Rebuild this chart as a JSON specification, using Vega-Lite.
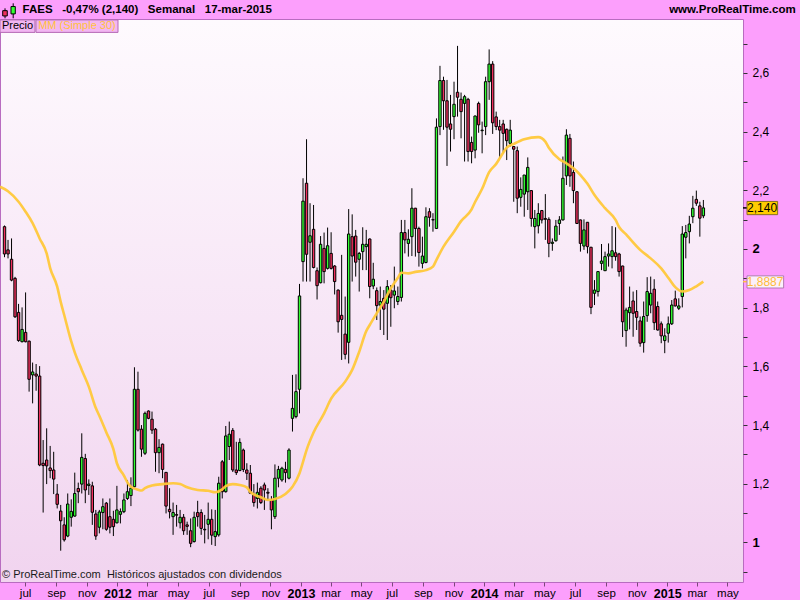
{
  "$schema": "https://vega.github.io/schema/vega-lite/v6.json",
  "width": 743,
  "height": 563,
  "autosize": {"type": "none"},
  "padding": {"left": 0, "top": 19, "right": 57, "bottom": 18},
  "background": "#fc9ffc",
  "config": {
    "font": "Liberation Sans",
    "view": {
      "fill": {"gradient": "linear", "x1": 0, "y1": 0, "x2": 0, "y2": 1, "stops": [{"offset": 0, "color": "#fefafe"}, {"offset": 1, "color": "#f1d4ef"}]},
      "stroke": "#b86cc0",
      "strokeWidth": 1
    }
  },
  "datasets": {
    "candles": [
      {"d":"2011-05-21","o":2.076,"h":2.08,"l":1.972,"c":1.983},
      {"d":"2011-05-28","o":1.997,"h":2.031,"l":1.968,"c":1.983},
      {"d":"2011-06-04","o":1.965,"h":2.036,"l":1.89,"c":1.894},
      {"d":"2011-06-11","o":1.9,"h":1.905,"l":1.765,"c":1.769},
      {"d":"2011-06-18","o":1.784,"h":1.813,"l":1.684,"c":1.688},
      {"d":"2011-06-25","o":1.684,"h":1.801,"l":1.682,"c":1.726},
      {"d":"2011-07-02","o":1.716,"h":1.852,"l":1.682,"c":1.684},
      {"d":"2011-07-09","o":1.686,"h":1.688,"l":1.514,"c":1.556},
      {"d":"2011-07-16","o":1.571,"h":1.613,"l":1.474,"c":1.581},
      {"d":"2011-07-23","o":1.574,"h":1.608,"l":1.517,"c":1.567},
      {"d":"2011-07-30","o":1.567,"h":1.601,"l":1.26,"c":1.264},
      {"d":"2011-08-06","o":1.27,"h":1.349,"l":1.102,"c":1.262},
      {"d":"2011-08-13","o":1.281,"h":1.389,"l":1.199,"c":1.261},
      {"d":"2011-08-20","o":1.254,"h":1.329,"l":1.219,"c":1.245},
      {"d":"2011-08-27","o":1.247,"h":1.309,"l":1.165,"c":1.216},
      {"d":"2011-09-03","o":1.165,"h":1.199,"l":1.116,"c":1.13},
      {"d":"2011-09-10","o":1.107,"h":1.128,"l":0.972,"c":1.074},
      {"d":"2011-09-17","o":1.06,"h":1.086,"l":1.003,"c":1.009},
      {"d":"2011-09-24","o":1.022,"h":1.167,"l":1.018,"c":1.131},
      {"d":"2011-10-01","o":1.086,"h":1.147,"l":1.054,"c":1.106},
      {"d":"2011-10-08","o":1.09,"h":1.238,"l":1.088,"c":1.167},
      {"d":"2011-10-15","o":1.184,"h":1.204,"l":1.134,"c":1.173},
      {"d":"2011-10-22","o":1.199,"h":1.372,"l":1.167,"c":1.29},
      {"d":"2011-10-29","o":1.286,"h":1.302,"l":1.134,"c":1.179},
      {"d":"2011-11-05","o":1.194,"h":1.215,"l":1.162,"c":1.199},
      {"d":"2011-11-12","o":1.193,"h":1.207,"l":1.06,"c":1.103},
      {"d":"2011-11-19","o":1.097,"h":1.111,"l":1.009,"c":1.022},
      {"d":"2011-11-26","o":1.052,"h":1.111,"l":1.031,"c":1.104},
      {"d":"2011-12-03","o":1.102,"h":1.15,"l":1.045,"c":1.122},
      {"d":"2011-12-10","o":1.134,"h":1.138,"l":1.04,"c":1.045},
      {"d":"2011-12-17","o":1.088,"h":1.15,"l":1.031,"c":1.052},
      {"d":"2011-12-24","o":1.079,"h":1.108,"l":1.022,"c":1.054},
      {"d":"2011-12-31","o":1.067,"h":1.193,"l":1.065,"c":1.111},
      {"d":"2012-01-07","o":1.096,"h":1.116,"l":1.065,"c":1.105},
      {"d":"2012-01-14","o":1.105,"h":1.167,"l":1.1,"c":1.145},
      {"d":"2012-01-21","o":1.15,"h":1.213,"l":1.145,"c":1.173},
      {"d":"2012-01-28","o":1.16,"h":1.222,"l":1.124,"c":1.185},
      {"d":"2012-02-04","o":1.19,"h":1.597,"l":1.188,"c":1.522},
      {"d":"2012-02-11","o":1.522,"h":1.582,"l":1.378,"c":1.383},
      {"d":"2012-02-18","o":1.386,"h":1.4,"l":1.292,"c":1.318},
      {"d":"2012-02-25","o":1.304,"h":1.446,"l":1.298,"c":1.44},
      {"d":"2012-03-03","o":1.448,"h":1.45,"l":1.42,"c":1.423},
      {"d":"2012-03-10","o":1.42,"h":1.446,"l":1.37,"c":1.383},
      {"d":"2012-03-17","o":1.386,"h":1.39,"l":1.241,"c":1.306},
      {"d":"2012-03-24","o":1.306,"h":1.352,"l":1.236,"c":1.324},
      {"d":"2012-03-31","o":1.335,"h":1.337,"l":1.219,"c":1.249},
      {"d":"2012-04-07","o":1.239,"h":1.24,"l":1.099,"c":1.124},
      {"d":"2012-04-14","o":1.113,"h":1.185,"l":1.082,"c":1.105},
      {"d":"2012-04-21","o":1.088,"h":1.136,"l":1.026,"c":1.102},
      {"d":"2012-04-28","o":1.095,"h":1.128,"l":1.054,"c":1.093},
      {"d":"2012-05-05","o":1.067,"h":1.111,"l":1.048,"c":1.086},
      {"d":"2012-05-12","o":1.086,"h":1.097,"l":1.026,"c":1.04},
      {"d":"2012-05-19","o":1.06,"h":1.071,"l":1.026,"c":1.055},
      {"d":"2012-05-26","o":1.04,"h":1.082,"l":0.984,"c":0.997},
      {"d":"2012-06-02","o":1.003,"h":1.105,"l":1.0,"c":1.086},
      {"d":"2012-06-09","o":1.102,"h":1.142,"l":1.054,"c":1.088},
      {"d":"2012-06-16","o":1.102,"h":1.113,"l":1.026,"c":1.048},
      {"d":"2012-06-23","o":1.045,"h":1.094,"l":0.997,"c":1.043},
      {"d":"2012-06-30","o":1.062,"h":1.136,"l":1.011,"c":1.079},
      {"d":"2012-07-07","o":1.079,"h":1.113,"l":0.992,"c":1.025},
      {"d":"2012-07-14","o":1.02,"h":1.111,"l":0.988,"c":1.037},
      {"d":"2012-07-21","o":1.026,"h":1.224,"l":1.02,"c":1.202},
      {"d":"2012-07-28","o":1.275,"h":1.281,"l":1.15,"c":1.173},
      {"d":"2012-08-04","o":1.173,"h":1.397,"l":1.17,"c":1.363},
      {"d":"2012-08-11","o":1.327,"h":1.412,"l":1.281,"c":1.369},
      {"d":"2012-08-18","o":1.382,"h":1.39,"l":1.24,"c":1.247},
      {"d":"2012-08-25","o":1.247,"h":1.343,"l":1.23,"c":1.238},
      {"d":"2012-09-01","o":1.245,"h":1.355,"l":1.243,"c":1.341},
      {"d":"2012-09-08","o":1.315,"h":1.32,"l":1.24,"c":1.249},
      {"d":"2012-09-15","o":1.247,"h":1.27,"l":1.213,"c":1.236},
      {"d":"2012-09-22","o":1.236,"h":1.264,"l":1.165,"c":1.168},
      {"d":"2012-09-29","o":1.162,"h":1.199,"l":1.122,"c":1.136},
      {"d":"2012-10-06","o":1.15,"h":1.204,"l":1.116,"c":1.171},
      {"d":"2012-10-13","o":1.185,"h":1.192,"l":1.131,"c":1.136},
      {"d":"2012-10-20","o":1.196,"h":1.204,"l":1.111,"c":1.179},
      {"d":"2012-10-27","o":1.171,"h":1.185,"l":1.143,"c":1.168},
      {"d":"2012-11-03","o":1.143,"h":1.158,"l":1.045,"c":1.111},
      {"d":"2012-11-10","o":1.088,"h":1.266,"l":1.08,"c":1.219},
      {"d":"2012-11-17","o":1.219,"h":1.261,"l":1.188,"c":1.249},
      {"d":"2012-11-24","o":1.213,"h":1.258,"l":1.207,"c":1.253},
      {"d":"2012-12-01","o":1.249,"h":1.275,"l":1.204,"c":1.238},
      {"d":"2012-12-08","o":1.219,"h":1.321,"l":1.215,"c":1.315},
      {"d":"2012-12-15","o":1.423,"h":1.571,"l":1.378,"c":1.457},
      {"d":"2012-12-22","o":1.429,"h":1.573,"l":1.423,"c":1.514},
      {"d":"2012-12-29","o":1.522,"h":1.881,"l":1.44,"c":1.84},
      {"d":"2013-01-05","o":1.957,"h":2.241,"l":1.889,"c":2.163},
      {"d":"2013-01-12","o":2.224,"h":2.374,"l":1.889,"c":1.982},
      {"d":"2013-01-19","o":2.023,"h":2.156,"l":1.889,"c":2.045},
      {"d":"2013-01-26","o":2.067,"h":2.15,"l":1.934,"c":1.937},
      {"d":"2013-02-02","o":1.926,"h":1.937,"l":1.828,"c":1.875},
      {"d":"2013-02-09","o":1.885,"h":2.044,"l":1.883,"c":2.016},
      {"d":"2013-02-16","o":2.002,"h":2.056,"l":1.883,"c":1.923},
      {"d":"2013-02-23","o":1.934,"h":2.073,"l":1.93,"c":2.011},
      {"d":"2013-03-02","o":1.985,"h":2.057,"l":1.93,"c":1.934},
      {"d":"2013-03-09","o":1.942,"h":1.945,"l":1.845,"c":1.889},
      {"d":"2013-03-16","o":1.86,"h":1.862,"l":1.715,"c":1.752},
      {"d":"2013-03-23","o":1.774,"h":1.98,"l":1.622,"c":1.76},
      {"d":"2013-03-30","o":1.71,"h":1.838,"l":1.624,"c":1.641},
      {"d":"2013-04-06","o":1.682,"h":2.136,"l":1.61,"c":2.051},
      {"d":"2013-04-13","o":2.042,"h":2.118,"l":1.889,"c":1.976},
      {"d":"2013-04-20","o":2.044,"h":2.065,"l":1.906,"c":1.955},
      {"d":"2013-04-27","o":1.965,"h":1.99,"l":1.855,"c":1.985},
      {"d":"2013-05-04","o":1.991,"h":2.074,"l":1.928,"c":2.016},
      {"d":"2013-05-11","o":2.008,"h":2.065,"l":1.928,"c":2.016},
      {"d":"2013-05-18","o":2.034,"h":2.036,"l":1.832,"c":1.872},
      {"d":"2013-05-25","o":1.874,"h":1.953,"l":1.863,"c":1.897},
      {"d":"2013-06-01","o":1.858,"h":1.869,"l":1.758,"c":1.807},
      {"d":"2013-06-08","o":1.809,"h":1.872,"l":1.724,"c":1.821},
      {"d":"2013-06-15","o":1.832,"h":1.86,"l":1.707,"c":1.795},
      {"d":"2013-06-22","o":1.815,"h":1.894,"l":1.69,"c":1.872},
      {"d":"2013-06-29","o":1.86,"h":1.877,"l":1.735,"c":1.834},
      {"d":"2013-07-06","o":1.843,"h":1.94,"l":1.798,"c":1.857},
      {"d":"2013-07-13","o":1.821,"h":1.872,"l":1.809,"c":1.838},
      {"d":"2013-07-20","o":1.835,"h":2.099,"l":1.821,"c":2.056},
      {"d":"2013-07-27","o":2.056,"h":2.099,"l":1.985,"c":2.031},
      {"d":"2013-08-03","o":2.019,"h":2.067,"l":1.974,"c":2.033},
      {"d":"2013-08-10","o":2.042,"h":2.207,"l":1.976,"c":2.139},
      {"d":"2013-08-17","o":2.139,"h":2.14,"l":1.974,"c":2.07},
      {"d":"2013-08-24","o":2.07,"h":2.076,"l":1.94,"c":1.988},
      {"d":"2013-08-31","o":1.951,"h":2.042,"l":1.934,"c":1.976},
      {"d":"2013-09-07","o":1.954,"h":2.142,"l":1.951,"c":2.11},
      {"d":"2013-09-14","o":2.127,"h":2.139,"l":2.076,"c":2.108},
      {"d":"2013-09-21","o":2.099,"h":2.122,"l":2.059,"c":2.1},
      {"d":"2013-09-28","o":2.07,"h":2.445,"l":2.068,"c":2.415},
      {"d":"2013-10-05","o":2.417,"h":2.624,"l":2.388,"c":2.574},
      {"d":"2013-10-12","o":2.574,"h":2.587,"l":2.406,"c":2.505},
      {"d":"2013-10-19","o":2.505,"h":2.576,"l":2.283,"c":2.415},
      {"d":"2013-10-26","o":2.426,"h":2.525,"l":2.332,"c":2.408},
      {"d":"2013-11-02","o":2.451,"h":2.57,"l":2.374,"c":2.493},
      {"d":"2013-11-09","o":2.534,"h":2.692,"l":2.451,"c":2.517},
      {"d":"2013-11-16","o":2.51,"h":2.533,"l":2.377,"c":2.468},
      {"d":"2013-11-23","o":2.496,"h":2.525,"l":2.298,"c":2.519},
      {"d":"2013-11-30","o":2.51,"h":2.515,"l":2.298,"c":2.332},
      {"d":"2013-12-07","o":2.363,"h":2.383,"l":2.292,"c":2.332},
      {"d":"2013-12-14","o":2.337,"h":2.455,"l":2.309,"c":2.453},
      {"d":"2013-12-21","o":2.496,"h":2.502,"l":2.396,"c":2.423},
      {"d":"2013-12-28","o":2.403,"h":2.434,"l":2.326,"c":2.405},
      {"d":"2014-01-04","o":2.417,"h":2.587,"l":2.388,"c":2.57},
      {"d":"2014-01-11","o":2.57,"h":2.68,"l":2.508,"c":2.63},
      {"d":"2014-01-18","o":2.63,"h":2.64,"l":2.392,"c":2.43},
      {"d":"2014-01-25","o":2.45,"h":2.468,"l":2.405,"c":2.417},
      {"d":"2014-02-01","o":2.417,"h":2.44,"l":2.309,"c":2.405},
      {"d":"2014-02-08","o":2.426,"h":2.44,"l":2.326,"c":2.394},
      {"d":"2014-02-15","o":2.408,"h":2.41,"l":2.303,"c":2.369},
      {"d":"2014-02-22","o":2.36,"h":2.44,"l":2.349,"c":2.405},
      {"d":"2014-03-01","o":2.349,"h":2.351,"l":2.161,"c":2.34},
      {"d":"2014-03-08","o":2.335,"h":2.349,"l":2.122,"c":2.173},
      {"d":"2014-03-15","o":2.176,"h":2.244,"l":2.144,"c":2.203},
      {"d":"2014-03-22","o":2.187,"h":2.252,"l":2.11,"c":2.252},
      {"d":"2014-03-29","o":2.195,"h":2.312,"l":2.133,"c":2.278},
      {"d":"2014-04-05","o":2.199,"h":2.2,"l":2.076,"c":2.104},
      {"d":"2014-04-12","o":2.076,"h":2.133,"l":2.002,"c":2.104},
      {"d":"2014-04-19","o":2.079,"h":2.156,"l":2.053,"c":2.121},
      {"d":"2014-04-26","o":2.131,"h":2.133,"l":2.087,"c":2.099},
      {"d":"2014-05-03","o":2.104,"h":2.187,"l":2.031,"c":2.101},
      {"d":"2014-05-10","o":2.101,"h":2.108,"l":1.972,"c":2.019},
      {"d":"2014-05-17","o":2.019,"h":2.036,"l":1.994,"c":2.023},
      {"d":"2014-05-24","o":2.028,"h":2.099,"l":2.025,"c":2.078},
      {"d":"2014-05-31","o":2.087,"h":2.112,"l":2.048,"c":2.099},
      {"d":"2014-06-07","o":2.099,"h":2.315,"l":2.097,"c":2.241},
      {"d":"2014-06-14","o":2.249,"h":2.408,"l":2.218,"c":2.388},
      {"d":"2014-06-21","o":2.377,"h":2.392,"l":2.212,"c":2.249},
      {"d":"2014-06-28","o":2.261,"h":2.298,"l":2.156,"c":2.199},
      {"d":"2014-07-05","o":2.195,"h":2.197,"l":2.085,"c":2.087},
      {"d":"2014-07-12","o":2.099,"h":2.1,"l":1.991,"c":2.019},
      {"d":"2014-07-19","o":2.01,"h":2.101,"l":1.997,"c":2.065},
      {"d":"2014-07-26","o":2.091,"h":2.092,"l":1.985,"c":2.008},
      {"d":"2014-08-02","o":2.006,"h":2.007,"l":1.778,"c":1.801},
      {"d":"2014-08-09","o":1.849,"h":1.894,"l":1.809,"c":1.86},
      {"d":"2014-08-16","o":1.855,"h":1.924,"l":1.838,"c":1.923},
      {"d":"2014-08-23","o":1.951,"h":2.017,"l":1.928,"c":1.959},
      {"d":"2014-08-30","o":1.926,"h":1.991,"l":1.925,"c":1.974},
      {"d":"2014-09-06","o":1.976,"h":2.019,"l":1.94,"c":1.983},
      {"d":"2014-09-13","o":1.974,"h":2.078,"l":1.934,"c":1.994},
      {"d":"2014-09-20","o":1.987,"h":2.074,"l":1.96,"c":1.974},
      {"d":"2014-09-27","o":1.983,"h":1.987,"l":1.906,"c":1.923},
      {"d":"2014-10-04","o":1.942,"h":1.943,"l":1.7,"c":1.752},
      {"d":"2014-10-11","o":1.722,"h":1.8,"l":1.667,"c":1.792},
      {"d":"2014-10-18","o":1.783,"h":1.872,"l":1.726,"c":1.801},
      {"d":"2014-10-25","o":1.823,"h":1.855,"l":1.701,"c":1.781},
      {"d":"2014-11-01","o":1.787,"h":1.86,"l":1.724,"c":1.767},
      {"d":"2014-11-08","o":1.755,"h":1.77,"l":1.667,"c":1.679},
      {"d":"2014-11-15","o":1.681,"h":1.821,"l":1.647,"c":1.77},
      {"d":"2014-11-22","o":1.773,"h":1.904,"l":1.752,"c":1.855},
      {"d":"2014-11-29","o":1.809,"h":1.906,"l":1.781,"c":1.849},
      {"d":"2014-12-06","o":1.863,"h":1.897,"l":1.724,"c":1.749},
      {"d":"2014-12-13","o":1.804,"h":1.821,"l":1.722,"c":1.724},
      {"d":"2014-12-20","o":1.745,"h":1.753,"l":1.679,"c":1.704},
      {"d":"2014-12-27","o":1.688,"h":1.73,"l":1.645,"c":1.704},
      {"d":"2015-01-03","o":1.713,"h":1.77,"l":1.681,"c":1.745},
      {"d":"2015-01-10","o":1.745,"h":1.826,"l":1.741,"c":1.809},
      {"d":"2015-01-17","o":1.83,"h":1.858,"l":1.804,"c":1.806},
      {"d":"2015-01-24","o":1.798,"h":1.832,"l":1.792,"c":1.806},
      {"d":"2015-01-31","o":1.838,"h":2.078,"l":1.801,"c":2.051},
      {"d":"2015-02-07","o":2.04,"h":2.082,"l":1.968,"c":2.056},
      {"d":"2015-02-14","o":2.059,"h":2.113,"l":2.019,"c":2.085},
      {"d":"2015-02-21","o":2.11,"h":2.181,"l":2.088,"c":2.139},
      {"d":"2015-02-28","o":2.169,"h":2.199,"l":2.147,"c":2.156},
      {"d":"2015-03-07","o":2.147,"h":2.161,"l":2.042,"c":2.105},
      {"d":"2015-03-14","o":2.113,"h":2.167,"l":2.105,"c":2.14}
    ],
    "ma": [
      {"d":"2011-05-12","v":2.212},{"d":"2011-05-28","v":2.197},{"d":"2011-06-18","v":2.161},{"d":"2011-07-02","v":2.127},
      {"d":"2011-07-16","v":2.088},{"d":"2011-07-30","v":2.036},{"d":"2011-08-13","v":1.985},{"d":"2011-08-20","v":1.935},
      {"d":"2011-09-03","v":1.872},{"d":"2011-09-10","v":1.82},{"d":"2011-09-17","v":1.775},{"d":"2011-10-01","v":1.685},
      {"d":"2011-10-08","v":1.648},{"d":"2011-10-22","v":1.588},{"d":"2011-11-05","v":1.531},{"d":"2011-11-19","v":1.458},
      {"d":"2011-11-26","v":1.432},{"d":"2011-12-10","v":1.375},{"d":"2011-12-24","v":1.318},{"d":"2011-12-31","v":1.27},
      {"d":"2012-01-14","v":1.228},{"d":"2012-01-21","v":1.205},{"d":"2012-01-28","v":1.19},{"d":"2012-02-11","v":1.18},
      {"d":"2012-02-18","v":1.177},{"d":"2012-02-25","v":1.185},{"d":"2012-03-10","v":1.194},{"d":"2012-03-31","v":1.199},
      {"d":"2012-04-21","v":1.202},{"d":"2012-05-05","v":1.199},{"d":"2012-05-19","v":1.188},{"d":"2012-06-09","v":1.179},
      {"d":"2012-06-30","v":1.176},{"d":"2012-07-14","v":1.171},{"d":"2012-07-28","v":1.181},{"d":"2012-08-04","v":1.192},
      {"d":"2012-08-18","v":1.199},{"d":"2012-09-01","v":1.196},{"d":"2012-09-15","v":1.188},{"d":"2012-09-22","v":1.172},
      {"d":"2012-10-13","v":1.154},{"d":"2012-10-27","v":1.145},{"d":"2012-11-10","v":1.148},{"d":"2012-12-01","v":1.165},
      {"d":"2012-12-15","v":1.19},{"d":"2012-12-29","v":1.236},{"d":"2013-01-05","v":1.275},{"d":"2013-01-12","v":1.315},
      {"d":"2013-01-26","v":1.375},{"d":"2013-02-16","v":1.44},{"d":"2013-03-02","v":1.49},{"d":"2013-03-30","v":1.548},
      {"d":"2013-04-13","v":1.588},{"d":"2013-04-27","v":1.65},{"d":"2013-05-11","v":1.72},{"d":"2013-05-18","v":1.741},
      {"d":"2013-06-01","v":1.781},{"d":"2013-06-15","v":1.82},{"d":"2013-06-29","v":1.866},{"d":"2013-07-13","v":1.902},
      {"d":"2013-07-20","v":1.919},{"d":"2013-08-03","v":1.917},{"d":"2013-08-17","v":1.922},{"d":"2013-09-07","v":1.928},
      {"d":"2013-09-21","v":1.94},{"d":"2013-09-28","v":1.963},{"d":"2013-10-12","v":2.008},{"d":"2013-11-02","v":2.059},
      {"d":"2013-11-16","v":2.095},{"d":"2013-12-07","v":2.135},{"d":"2013-12-14","v":2.16},{"d":"2013-12-28","v":2.205},
      {"d":"2014-01-11","v":2.262},{"d":"2014-01-25","v":2.29},{"d":"2014-02-08","v":2.328},{"d":"2014-02-15","v":2.345},
      {"d":"2014-03-01","v":2.358},{"d":"2014-03-22","v":2.374},{"d":"2014-04-19","v":2.381},{"d":"2014-05-03","v":2.366},
      {"d":"2014-05-10","v":2.345},{"d":"2014-05-31","v":2.306},{"d":"2014-06-14","v":2.292},{"d":"2014-06-28","v":2.275},
      {"d":"2014-07-12","v":2.252},{"d":"2014-07-26","v":2.222},{"d":"2014-08-09","v":2.184},{"d":"2014-08-30","v":2.139},
      {"d":"2014-09-20","v":2.099},{"d":"2014-09-27","v":2.075},{"d":"2014-10-11","v":2.05},{"d":"2014-10-18","v":2.036},
      {"d":"2014-11-08","v":1.997},{"d":"2014-11-29","v":1.968},{"d":"2014-12-20","v":1.934},{"d":"2015-01-03","v":1.902},
      {"d":"2015-01-17","v":1.87},{"d":"2015-01-31","v":1.855},{"d":"2015-02-14","v":1.86},{"d":"2015-02-28","v":1.873},
      {"d":"2015-03-14","v":1.8887}
    ]
  },
  "layer": [
    {
      "data": {"name": "candles"},
      "mark": {"type": "rule", "color": "#000000", "strokeWidth": 1},
      "encoding": {
        "x": {
          "field": "d", "type": "temporal",
          "scale": {"type": "utc", "padding": 0, "domain": [{"year": 2011, "month": 5, "date": 12, "utc": true}, {"year": 2015, "month": 6, "date": 1, "utc": true}]},
          "axis": {
            "orient": "bottom", "title": null, "grid": false, "domain": false,
            "tickCount": 200,
            "values": [
              {"year":2011,"month":7,"date":1,"utc":true},{"year":2011,"month":9,"date":1,"utc":true},{"year":2011,"month":11,"date":1,"utc":true},
              {"year":2012,"month":1,"date":1,"utc":true},{"year":2012,"month":3,"date":1,"utc":true},{"year":2012,"month":5,"date":1,"utc":true},
              {"year":2012,"month":7,"date":1,"utc":true},{"year":2012,"month":9,"date":1,"utc":true},{"year":2012,"month":11,"date":1,"utc":true},
              {"year":2013,"month":1,"date":1,"utc":true},{"year":2013,"month":3,"date":1,"utc":true},{"year":2013,"month":5,"date":1,"utc":true},
              {"year":2013,"month":7,"date":1,"utc":true},{"year":2013,"month":9,"date":1,"utc":true},{"year":2013,"month":11,"date":1,"utc":true},
              {"year":2014,"month":1,"date":1,"utc":true},{"year":2014,"month":3,"date":1,"utc":true},{"year":2014,"month":5,"date":1,"utc":true},
              {"year":2014,"month":7,"date":1,"utc":true},{"year":2014,"month":9,"date":1,"utc":true},{"year":2014,"month":11,"date":1,"utc":true},
              {"year":2015,"month":1,"date":1,"utc":true},{"year":2015,"month":3,"date":1,"utc":true},{"year":2015,"month":5,"date":1,"utc":true}
            ],
            "labelExpr": "utcmonth(datum.value) == 0 ? utcFormat(datum.value, '%Y') : ['ene','feb','mar','abr','may','jun','jul','ago','sep','oct','nov','dic'][utcmonth(datum.value)]",
            "labelFontWeight": {"condition": {"test": "utcmonth(datum.value) == 0", "value": "bold"}, "value": "normal"},
            "labelFontSize": {"condition": {"test": "utcmonth(datum.value) == 0", "value": 12.5}, "value": 11.5},
            "labelColor": "#000000",
            "labelFont": "Liberation Sans",
            "labelOverlap": false,
            "labelFlush": false,
            "labelPadding": 1,
            "tickSize": 4,
            "tickColor": "#7a4a7a"
          }
        },
        "y": {
          "field": "l", "type": "quantitative",
          "scale": {"domain": [0.8654, 2.7836], "nice": false, "zero": false, "padding": 0},
          "axis": {
            "orient": "right", "title": null, "grid": false, "domain": false,
            "tickCount": 200,
            "values": [0.9,1.0,1.1,1.2,1.3,1.4,1.5,1.6,1.7,1.8,1.9,2.0,2.1,2.2,2.3,2.4,2.5,2.6,2.7],
            "labelExpr": "abs(datum.value - round(datum.value)) < 0.001 ? format(datum.value, 'd') : (round(datum.value * 10) % 2 == 0 ? replace(format(datum.value, '.1f'), '.', ',') : '')",
            "labelFontWeight": {"condition": {"test": "abs(datum.value - round(datum.value)) < 0.001", "value": "bold"}, "value": "normal"},
            "labelFontSize": {"condition": {"test": "abs(datum.value - round(datum.value)) < 0.001", "value": 13}, "value": 12},
            "labelColor": "#000000",
            "labelFont": "Liberation Sans",
            "labelPadding": 5,
            "labelOverlap": false,
            "labelFlush": false,
            "tickSize": 4,
            "tickColor": "#333333"
          }
        },
        "y2": {"field": "h"}
      }
    },
    {
      "data": {"name": "candles"},
      "mark": {"type": "bar", "size": 2.4, "stroke": "#000000", "strokeWidth": 1},
      "encoding": {
        "x": {"field": "d", "type": "temporal"},
        "y": {"field": "o", "type": "quantitative"},
        "y2": {"field": "c"},
        "color": {"condition": {"test": "datum.c >= datum.o", "value": "#33ff33"}, "value": "#f0305f"}
      }
    },
    {
      "data": {"name": "ma"},
      "mark": {"type": "line", "color": "#ffc83a", "strokeWidth": 2.6, "opacity": 0.95, "interpolate": "monotone"},
      "encoding": {
        "x": {"field": "d", "type": "temporal"},
        "y": {"field": "v", "type": "quantitative"}
      }
    },
    {
      "data": {"values": [{}]},
      "mark": {"type": "text", "align": "left", "baseline": "middle", "fontSize": 11, "color": "#1a1a1a", "text": "© ProRealTime.com\u00a0\u00a0Históricos ajustados con dividendos"},
      "encoding": {
        "x": {"datum": {"year": 2011, "month": 5, "date": 16, "utc": true}, "type": "temporal"},
        "y": {"datum": 0.889, "type": "quantitative"}
      }
    },
    {
      "data": {"values": [{}]},
      "mark": {"type": "rect", "fill": "#f2b6f2", "stroke": "#b468b4", "strokeWidth": 1},
      "encoding": {
        "x": {"datum": {"year": 2011, "month": 5, "date": 12, "utc": true}, "type": "temporal"},
        "x2": {"datum": {"year": 2011, "month": 7, "date": 20, "hours": 17, "utc": true}},
        "y": {"datum": 2.7805, "type": "quantitative"},
        "y2": {"datum": 2.738}
      }
    },
    {
      "data": {"values": [{}]},
      "mark": {"type": "rect", "fill": "#f2b6f2", "stroke": "#b468b4", "strokeWidth": 1},
      "encoding": {
        "x": {"datum": {"year": 2011, "month": 7, "date": 22, "hours": 17, "utc": true}, "type": "temporal"},
        "x2": {"datum": {"year": 2012, "month": 1, "date": 2, "hours": 5, "utc": true}},
        "y": {"datum": 2.7805, "type": "quantitative"},
        "y2": {"datum": 2.738}
      }
    },
    {
      "data": {"values": [{}]},
      "mark": {"type": "text", "align": "left", "baseline": "middle", "fontSize": 11, "color": "#000000", "text": "Precio"},
      "encoding": {
        "x": {"datum": {"year": 2011, "month": 5, "date": 16, "utc": true}, "type": "temporal"},
        "y": {"datum": 2.759, "type": "quantitative"}
      }
    },
    {
      "data": {"values": [{}]},
      "mark": {"type": "text", "align": "left", "baseline": "middle", "fontSize": 11, "color": "#ffc23c", "text": "MM (Simple 30)"},
      "encoding": {
        "x": {"datum": {"year": 2011, "month": 7, "date": 27, "utc": true}, "type": "temporal"},
        "y": {"datum": 2.759, "type": "quantitative"}
      }
    },
    {
      "data": {"values": [{}]},
      "mark": {"type": "text", "align": "left", "baseline": "middle", "fontSize": 11.5, "fontWeight": "bold", "color": "#000000", "text": "FAES\u00a0\u00a0\u00a0-0,47%\u00a0(2,140)\u00a0\u00a0\u00a0Semanal\u00a0\u00a0\u00a017-mar-2015"},
      "encoding": {
        "x": {"datum": {"year": 2011, "month": 6, "date": 26, "utc": true}, "type": "temporal"},
        "y": {"datum": 2.814, "type": "quantitative"}
      }
    },
    {
      "data": {"values": [{}]},
      "mark": {"type": "text", "align": "right", "baseline": "middle", "fontSize": 11.5, "fontWeight": "bold", "color": "#000000", "text": "www.ProRealTime.com"},
      "encoding": {
        "x": {"datum": {"year": 2015, "month": 9, "date": 14, "utc": true}, "type": "temporal"},
        "y": {"datum": 2.814, "type": "quantitative"}
      }
    },
    {
      "data": {"values": [{}]},
      "mark": {"type": "rule", "color": "#000000", "strokeWidth": 1},
      "encoding": {
        "x": {"datum": {"year": 2011, "month": 5, "date": 22, "utc": true}, "type": "temporal"},
        "y": {"datum": 2.82, "type": "quantitative"},
        "y2": {"datum": 2.786}
      }
    },
    {
      "data": {"values": [{}]},
      "mark": {"type": "rect", "fill": "#f0305f", "stroke": "#000000", "strokeWidth": 1},
      "encoding": {
        "x": {"datum": {"year": 2011, "month": 5, "date": 17, "hours": 10, "utc": true}, "type": "temporal"},
        "x2": {"datum": {"year": 2011, "month": 5, "date": 26, "hours": 12, "utc": true}},
        "y": {"datum": 2.812, "type": "quantitative"},
        "y2": {"datum": 2.794}
      }
    },
    {
      "data": {"values": [{}]},
      "mark": {"type": "rule", "color": "#000000", "strokeWidth": 1},
      "encoding": {
        "x": {"datum": {"year": 2011, "month": 6, "date": 7, "hours": 7, "utc": true}, "type": "temporal"},
        "y": {"datum": 2.837, "type": "quantitative"},
        "y2": {"datum": 2.786}
      }
    },
    {
      "data": {"values": [{}]},
      "mark": {"type": "rect", "fill": "#33ff33", "stroke": "#000000", "strokeWidth": 1},
      "encoding": {
        "x": {"datum": {"year": 2011, "month": 6, "date": 2, "hours": 22, "utc": true}, "type": "temporal"},
        "x2": {"datum": {"year": 2011, "month": 6, "date": 11, "hours": 12, "utc": true}},
        "y": {"datum": 2.826, "type": "quantitative"},
        "y2": {"datum": 2.801}
      }
    },
    {
      "data": {"values": [{}]},
      "mark": {"type": "rule", "color": "#000000", "strokeWidth": 1.5},
      "encoding": {
        "x": {"datum": {"year": 2015, "month": 6, "date": 1, "utc": true}, "type": "temporal"},
        "x2": {"datum": {"year": 2015, "month": 6, "date": 9, "utc": true}},
        "y": {"datum": 2.14, "type": "quantitative"}
      }
    },
    {
      "data": {"values": [{}]},
      "mark": {"type": "rule", "color": "#ffc23c", "strokeWidth": 1.5},
      "encoding": {
        "x": {"datum": {"year": 2015, "month": 6, "date": 1, "utc": true}, "type": "temporal"},
        "x2": {"datum": {"year": 2015, "month": 6, "date": 9, "utc": true}},
        "y": {"datum": 1.8887, "type": "quantitative"}
      }
    },
    {
      "data": {"values": [{}]},
      "mark": {"type": "rect", "fill": "#ffcc00", "stroke": "#8a7020", "strokeWidth": 1},
      "encoding": {
        "x": {"datum": {"year": 2015, "month": 6, "date": 9, "utc": true}, "type": "temporal"},
        "x2": {"datum": {"year": 2015, "month": 8, "date": 9, "utc": true}},
        "y": {"datum": 2.162, "type": "quantitative"},
        "y2": {"datum": 2.117}
      }
    },
    {
      "data": {"values": [{}]},
      "mark": {"type": "rect", "fill": "#fbf0fb", "stroke": "#b07ab0", "strokeWidth": 1},
      "encoding": {
        "x": {"datum": {"year": 2015, "month": 6, "date": 9, "utc": true}, "type": "temporal"},
        "x2": {"datum": {"year": 2015, "month": 8, "date": 21, "utc": true}},
        "y": {"datum": 1.9085, "type": "quantitative"},
        "y2": {"datum": 1.867}
      }
    },
    {
      "data": {"values": [{}]},
      "mark": {"type": "text", "align": "center", "baseline": "middle", "fontSize": 12, "color": "#000000", "text": "2,140"},
      "encoding": {
        "x": {"datum": {"year": 2015, "month": 7, "date": 9, "utc": true}, "type": "temporal"},
        "y": {"datum": 2.14, "type": "quantitative"}
      }
    },
    {
      "data": {"values": [{}]},
      "mark": {"type": "text", "align": "center", "baseline": "middle", "fontSize": 12, "color": "#ffbb3a", "text": "1,8887"},
      "encoding": {
        "x": {"datum": {"year": 2015, "month": 7, "date": 15, "utc": true}, "type": "temporal"},
        "y": {"datum": 1.8887, "type": "quantitative"}
      }
    }
  ]
}
